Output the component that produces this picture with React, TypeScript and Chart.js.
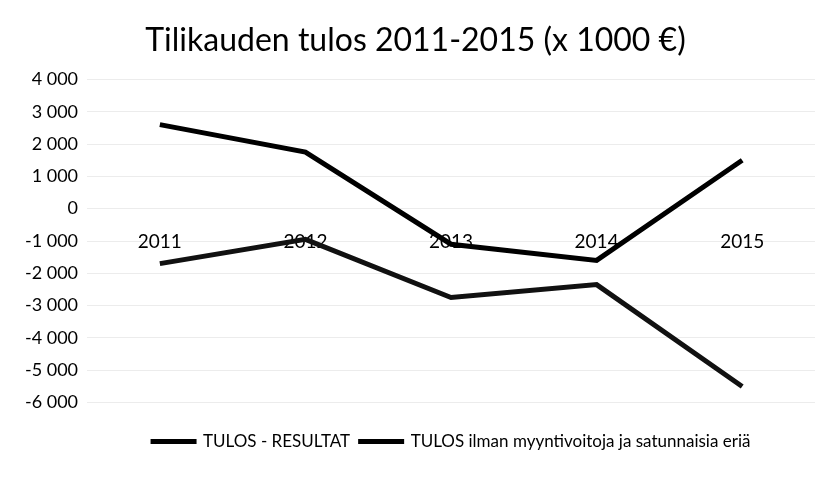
import React, { useEffect, useRef } from "react";
import { Chart, registerables } from "chart.js";

Chart.register(...registerables);

const categories = ["2011", "2012", "2013", "2014", "2015"];
const tulosResultat = [2600, 1750, -1100, -1600, 1500];
const tulosIlman = [-1700, -950, -2750, -2350, -5500];
const seriesNames = ["TULOS - RESULTAT", "TULOS ilman myyntivoitoja ja satunnaisia eriä"];
const titleText = "Tilikauden tulos 2011-2015 (x 1000 €)";
const yMin = -6000;
const yMax = 4000;
const yStep = 1000;

function fmt(v: number): string {
  const sign = v < 0 ? "-" : "";
  const s = Math.abs(Math.round(v)).toString();
  return sign + s.replace(/\B(?=(\d{3})+(?!\d))/g, " ");
}

const FONT = "Lato, 'Open Sans', sans-serif";

const shiftLegend = {
  id: "shiftLegend",
  afterLayout(chart: any) {
    const lg = chart.legend;
    if (lg) {
      lg.left += 36;
      lg.right += 36;
    }
  },
};

export default function App() {
  const ref = useRef<HTMLCanvasElement | null>(null);
  useEffect(() => {
    if (!ref.current) return;
    const chart = new Chart(ref.current, {
      type: "line",
      data: {
        labels: categories,
        datasets: [
          {
            label: seriesNames[0],
            data: tulosResultat,
            borderColor: "#000000",
            backgroundColor: "#000000",
            borderWidth: 5,
            pointRadius: 0,
            tension: 0,
          },
          {
            label: seriesNames[1],
            data: tulosIlman,
            borderColor: "#111111",
            backgroundColor: "#111111",
            borderWidth: 5,
            pointRadius: 0,
            tension: 0,
          },
        ],
      },
      plugins: [shiftLegend],
      options: {
        animation: false,
        responsive: true,
        maintainAspectRatio: false,
        layout: { padding: { left: 16, right: 12, top: 0, bottom: 23 } },
        plugins: {
          title: {
            display: true,
            text: titleText,
            color: "#000000",
            font: { family: FONT, size: 32, weight: "normal" },
            padding: { top: 21, bottom: 20 },
          },
          legend: {
            position: "bottom",
            title: { display: true, text: "", font: { size: 12 }, padding: 3 },
            labels: {
              color: "#000000",
              font: { family: FONT, size: 17 },
              boxWidth: 42,
              boxHeight: 1,
              padding: 10,
              generateLabels: (c: any) =>
                Chart.defaults.plugins.legend.labels.generateLabels(c).map((it: any) => ({
                  ...it,
                  lineWidth: 4,
                  fillStyle: "#000000",
                  strokeStyle: "#000000",
                })),
            },
          },
          tooltip: { enabled: false },
        },
        scales: {
          x: {
            position: { y: 0 } as any,
            offset: true,
            grid: { display: false },
            border: { display: false },
            ticks: {
              color: "#000000",
              font: { family: FONT, size: 19 },
              padding: 14,
            },
          },
          y: {
            min: yMin,
            max: yMax,
            border: { display: false },
            grid: { color: "#ececec", tickLength: 0, drawTicks: false },
            ticks: {
              stepSize: yStep,
              color: "#000000",
              font: { family: FONT, size: 18 },
              padding: 9,
              callback: (v: any) => fmt(Number(v)),
            },
          },
        },
      },
    });
    return () => chart.destroy();
  }, []);
  return (
    <div style={{ position: "fixed", left: 0, top: 0, width: 827, height: 483, background: "#ffffff" }}>
      <canvas ref={ref} />
    </div>
  );
}
